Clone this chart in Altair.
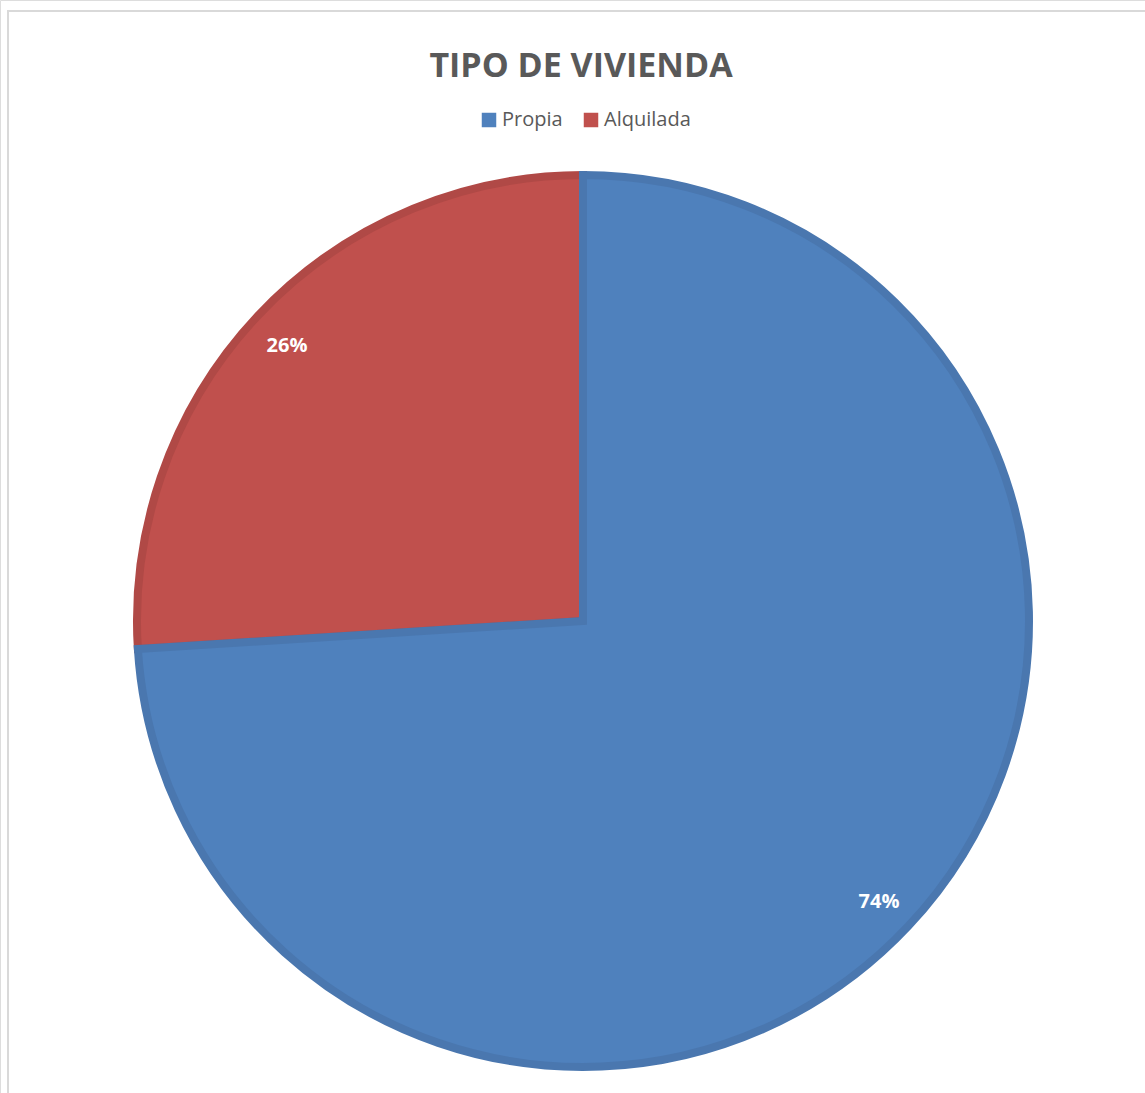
import altair as alt
import pandas as pd

categories = ["Propia", "Alquilada"]
values = [74, 26]
labels = ["74%", "26%"]
fill_colors = ["#4F81BD", "#C0504D"]
stroke_colors = ["#4A77AF", "#B04946"]

# Alquilada listed first so that it is drawn first (Propia's border on top, as in the reference)
df = pd.DataFrame({"cat": categories[::-1], "value": values[::-1], "label": labels[::-1], "order": [1, 0]})

W, H = 1145, 1093
CX, CY = 583, 621

base = alt.Chart(df)

pie = base.mark_arc(strokeWidth=8, strokeJoin="miter").encode(
    theta=alt.Theta("value:Q", stack=True),
    order=alt.Order("order:Q"),
    color=alt.Color("cat:N", scale=alt.Scale(domain=categories, range=fill_colors),
                    legend=alt.Legend(title=None, orient="none", legendX=479, legendY=110,
                                      direction="horizontal", symbolType="square",
                                      symbolSize=210, symbolStrokeWidth=0,
                                      labelFontSize=20, labelColor="#595959",
                                      labelFont="Open Sans", columnPadding=18,
                                      symbolOffset=0, labelOffset=3)),
    stroke=alt.Stroke("cat:N", scale=alt.Scale(domain=categories, range=stroke_colors), legend=None),
    x=alt.value(CX), y=alt.value(CY),
    radius=alt.value(446),
)

text = base.mark_text(fontSize=20, fontWeight="bold", color="white", font="Open Sans", dy=3).encode(
    theta=alt.Theta("value:Q", stack=True),
    order=alt.Order("order:Q"),
    text="label:N",
    x=alt.value(CX), y=alt.value(CY),
    radius=alt.value(406),
)

title = alt.Chart(pd.DataFrame({"t": ["TIPO DE VIVIENDA"]})).mark_text(
    fontSize=34, fontWeight="bold", color="#595959", font="Open Sans", baseline="alphabetic"
).encode(text="t:N", x=alt.value(581), y=alt.value(77))

frame_left = alt.Chart(pd.DataFrame({"a": [0]})).mark_rule(color="#d9d9d9", strokeWidth=2).encode(
    x=alt.value(8), y=alt.value(10), y2=alt.value(H))
frame_top = alt.Chart(pd.DataFrame({"a": [0]})).mark_rule(color="#d9d9d9", strokeWidth=2).encode(
    x=alt.value(7), x2=alt.value(W), y=alt.value(11))

chart = alt.layer(frame_left, frame_top, pie, text, title).properties(
    width=W, height=H, autosize=alt.AutoSizeParams(type="none"), padding=0
).configure_view(stroke=None).configure(background="white")

chart.save("out.html", embed_options={"renderer": "svg", "actions": False})
